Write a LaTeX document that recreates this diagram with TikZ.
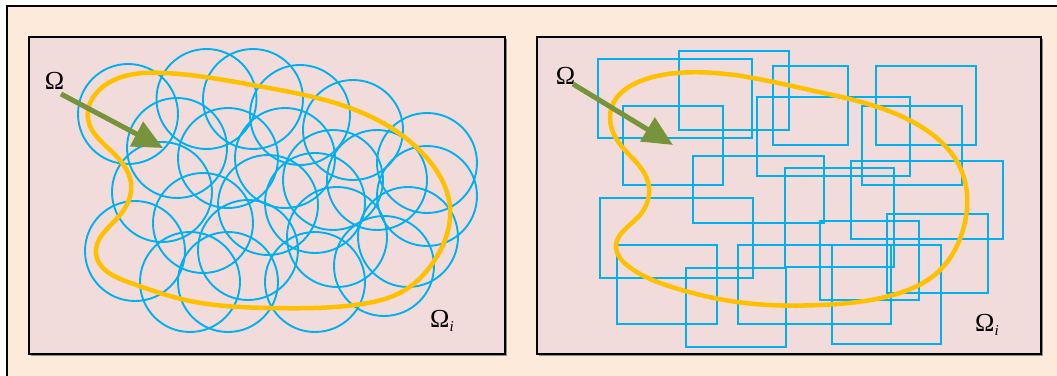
\documentclass[tikz,border=0pt]{standalone}
\usepackage{fontspec}
\setmainfont{Liberation Serif}
\usetikzlibrary{arrows.meta,hobby}
\definecolor{outerfill}{HTML}{FDEADA}
\definecolor{panelfill}{HTML}{F2DCDB}
\definecolor{cblue}{HTML}{00B0F0}
\definecolor{cyellow}{HTML}{FFC000}
\definecolor{cgreen}{HTML}{77933C}
\tikzset{
  panel/.style={draw=black, line width=1.6pt, fill=panelfill},
  panelshadow/.style={fill=black!45},
  cell/.style={draw=cblue, line width=1.9pt},
  omegacurve/.style={draw=cyellow, line width=4.5pt},
  pointer/.style={draw=cgreen, line width=5pt, -{Triangle[length=30pt,width=27pt]}},
  lbl/.style={font=\fontsize{26}{26}\selectfont, inner sep=0pt},
}
\begin{document}
\begin{tikzpicture}[x=1pt,y=-1pt]
\useasboundingbox (0,0) rectangle (1057,375);
\clip (0,0) rectangle (1057,375);
\fill[white] (0,0) rectangle (1057,375);
\draw[fill=outerfill, line width=1.6pt] (7,6) rectangle (1070,390);
% panels
\fill[panelshadow] (31,39) rectangle (507,356);
\fill[panelshadow] (539,39) rectangle (1043,356);
\draw[panel] (29,37) rectangle (505,354);
\draw[panel] (537,37) rectangle (1041,354);

% left: circles
\foreach \p in {(128,114),(206.5,99),(253,99),(300,115),(353,130),(177,148),(228,158),(285,158),(162,192),(203,223),(268,205),(333,180),(377,180),(427,163),(427,196),(135,251),(190,282),(228,282),(248,250),(315,282),(337,237),(315,203),(384,266),(408,237)}
  \draw[cell] \p circle[radius=50];
\draw[omegacurve, use Hobby shortcut, closed=true] (165,73) .. (258,86) .. (358,111) .. (426,157) .. (450,207) .. (436,258) .. (405,290) .. (355,305) .. (270,308) .. (190,301) .. (128,282) .. (96,254) .. (120,215) .. (131,183) .. (108,148) .. (88,119) .. (110,82);

\node[lbl] (omegaL) at (54.5,80.5) {Ω};
\coordinate (omegaLs) at (61,94);
\coordinate (omegaLt) at (163,148);
\draw[pointer] (omegaLs) -- (omegaLt);
\node[lbl, anchor=base west] (omegaLi) at (430,327) {Ω\raisebox{-0.35ex}{\fontsize{15}{15}\selectfont\itshape i}};

% right: rectangles
\foreach \a/\b in {{(598,59)}/{(752,138)},{(679,51)}/{(789,130)},{(623,106)}/{(723,185)},{(773,66)}/{(848,145)},{(757,97)}/{(910,176)},{(693,156)}/{(824,223)},{(785,168)}/{(894,267)},{(876,66)}/{(976,145)},{(862,106)}/{(962,185)},{(851,161)}/{(1003,239)},{(600,198)}/{(753,278)},{(617,245)}/{(717,324)},{(686,268)}/{(786,347)},{(738,245)}/{(891,324)},{(820,221)}/{(919,300)},{(832,245)}/{(941,344)},{(887,214)}/{(988,293)}}
  \draw[cell] \a rectangle \b;
\draw[omegacurve, use Hobby shortcut, closed=true] (677,73) .. (810,90) .. (913,122) .. (962,172) .. (964,226) .. (938,272) .. (893,295) .. (820,305) .. (745,303) .. (675,288) .. (628,266) .. (616,248) .. (640,215) .. (648,182) .. (617,140) .. (612,106) .. (636,83);

\node[lbl] (omegaR) at (565.5,76) {Ω};
\coordinate (omegaRs) at (573,84);
\coordinate (omegaRt) at (673,145);
\draw[pointer] (omegaRs) -- (omegaRt);
\node[lbl, anchor=base west] (omegaRi) at (975,331) {Ω\raisebox{-0.35ex}{\fontsize{15}{15}\selectfont\itshape i}};
\end{tikzpicture}
\end{document}
